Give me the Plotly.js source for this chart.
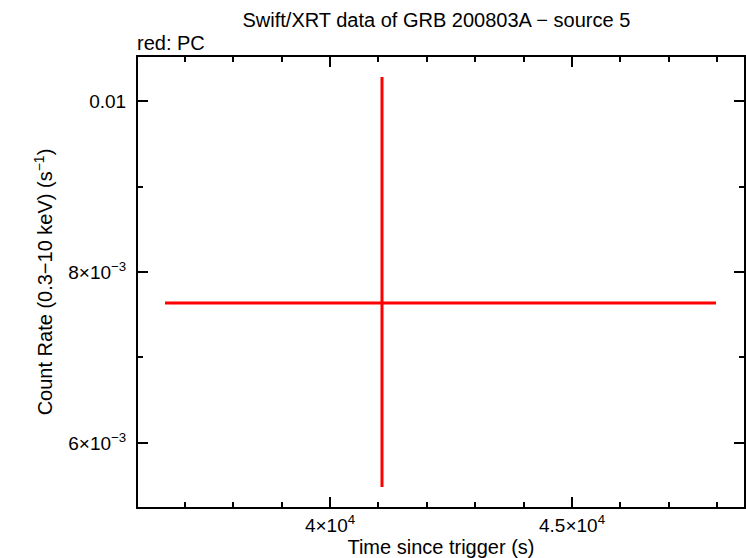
<!DOCTYPE html>
<html>
<head>
<meta charset="utf-8">
<script src="https://cdn.plot.ly/plotly-3.0.1.min.js"></script>
<style>html,body{margin:0;padding:0;background:#fff}#chart{width:746px;height:558px}</style>
</head>
<body>
<div id="chart"></div>
<script>
const time = [41074];
const timeErrMinus = [4483];
const timeErrPlus = [6901];
const rate = [0.007637];
const rateErrPlus = [0.002644];
const rateErrMinus = [0.002152];

const xTickVals = [40000, 45000];
const xTickText = ['4×10<sup>4</sup>', '4.5×10<sup>4</sup>'];
const yTickVals = [0.006, 0.008, 0.01];
const yTickText = ['6×10<sup>−3</sup>', '8×10<sup>−3</sup>', '0.01'];

const font = 'Liberation Sans, Arial, Helvetica, sans-serif';

const trace = {
  x: time, y: rate, type: 'scatter', mode: 'markers',
  marker: {size: 1, color: '#ff0000'},
  error_x: {type: 'data', symmetric: false, array: timeErrPlus, arrayminus: timeErrMinus, color: '#ff0000', thickness: 3, width: 0},
  error_y: {type: 'data', symmetric: false, array: rateErrPlus, arrayminus: rateErrMinus, color: '#ff0000', thickness: 3, width: 0},
  hoverinfo: 'skip', showlegend: false
};

const layout = {
  width: 746, height: 558,
  margin: {l: 138, r: 2, t: 57, b: 51},
  paper_bgcolor: '#fff', plot_bgcolor: '#fff',
  font: {family: font, size: 20, color: '#000'},
  title: {text: 'Swift/XRT data of GRB 200803A − source 5', x: 0.585, xanchor: 'center', y: 0.964, yanchor: 'middle', font: {family: font, size: 20, color: '#000'}},
  xaxis: {
    range: [36033, 48553], showgrid: false, zeroline: false,
    showline: true, linecolor: '#000', linewidth: 2, mirror: 'ticks',
    ticks: 'inside', ticklen: 10, tickwidth: 2, tickcolor: '#000',
    tickvals: xTickVals, ticktext: xTickText,
    tickfont: {family: font, size: 19, color: '#000'},
    minor: {dtick: 1000, tick0: 0, ticks: 'inside', ticklen: 5, tickwidth: 2, tickcolor: '#000', showgrid: false},
    title: {text: 'Time since trigger (s)', standoff: 2, font: {family: font, size: 20, color: '#000'}}
  },
  yaxis: {
    range: [0.005251, 0.010515], showgrid: false, zeroline: false,
    showline: true, linecolor: '#000', linewidth: 2, mirror: 'ticks',
    ticks: 'inside', ticklen: 10, tickwidth: 2, tickcolor: '#000',
    tickvals: yTickVals, ticktext: yTickText,
    tickfont: {family: font, size: 19, color: '#000'},
    ticklabelstandoff: 6,
    minor: {dtick: 0.001, tick0: 0, ticks: 'inside', ticklen: 5, tickwidth: 2, tickcolor: '#000', showgrid: false},
    title: {text: 'Count Rate (0.3−10 keV) (s<sup>−1</sup>)', standoff: 10, font: {family: font, size: 20, color: '#000'}}
  },
  annotations: [{
    text: 'red: PC', xref: 'paper', yref: 'paper', x: 0, y: 1, xanchor: 'left', yanchor: 'bottom',
    xshift: -3, yshift: 1, showarrow: false, font: {family: font, size: 20, color: '#000'}
  }]
};

Plotly.newPlot('chart', [trace], layout, {displayModeBar: false, staticPlot: true});
</script>
</body>
</html>
